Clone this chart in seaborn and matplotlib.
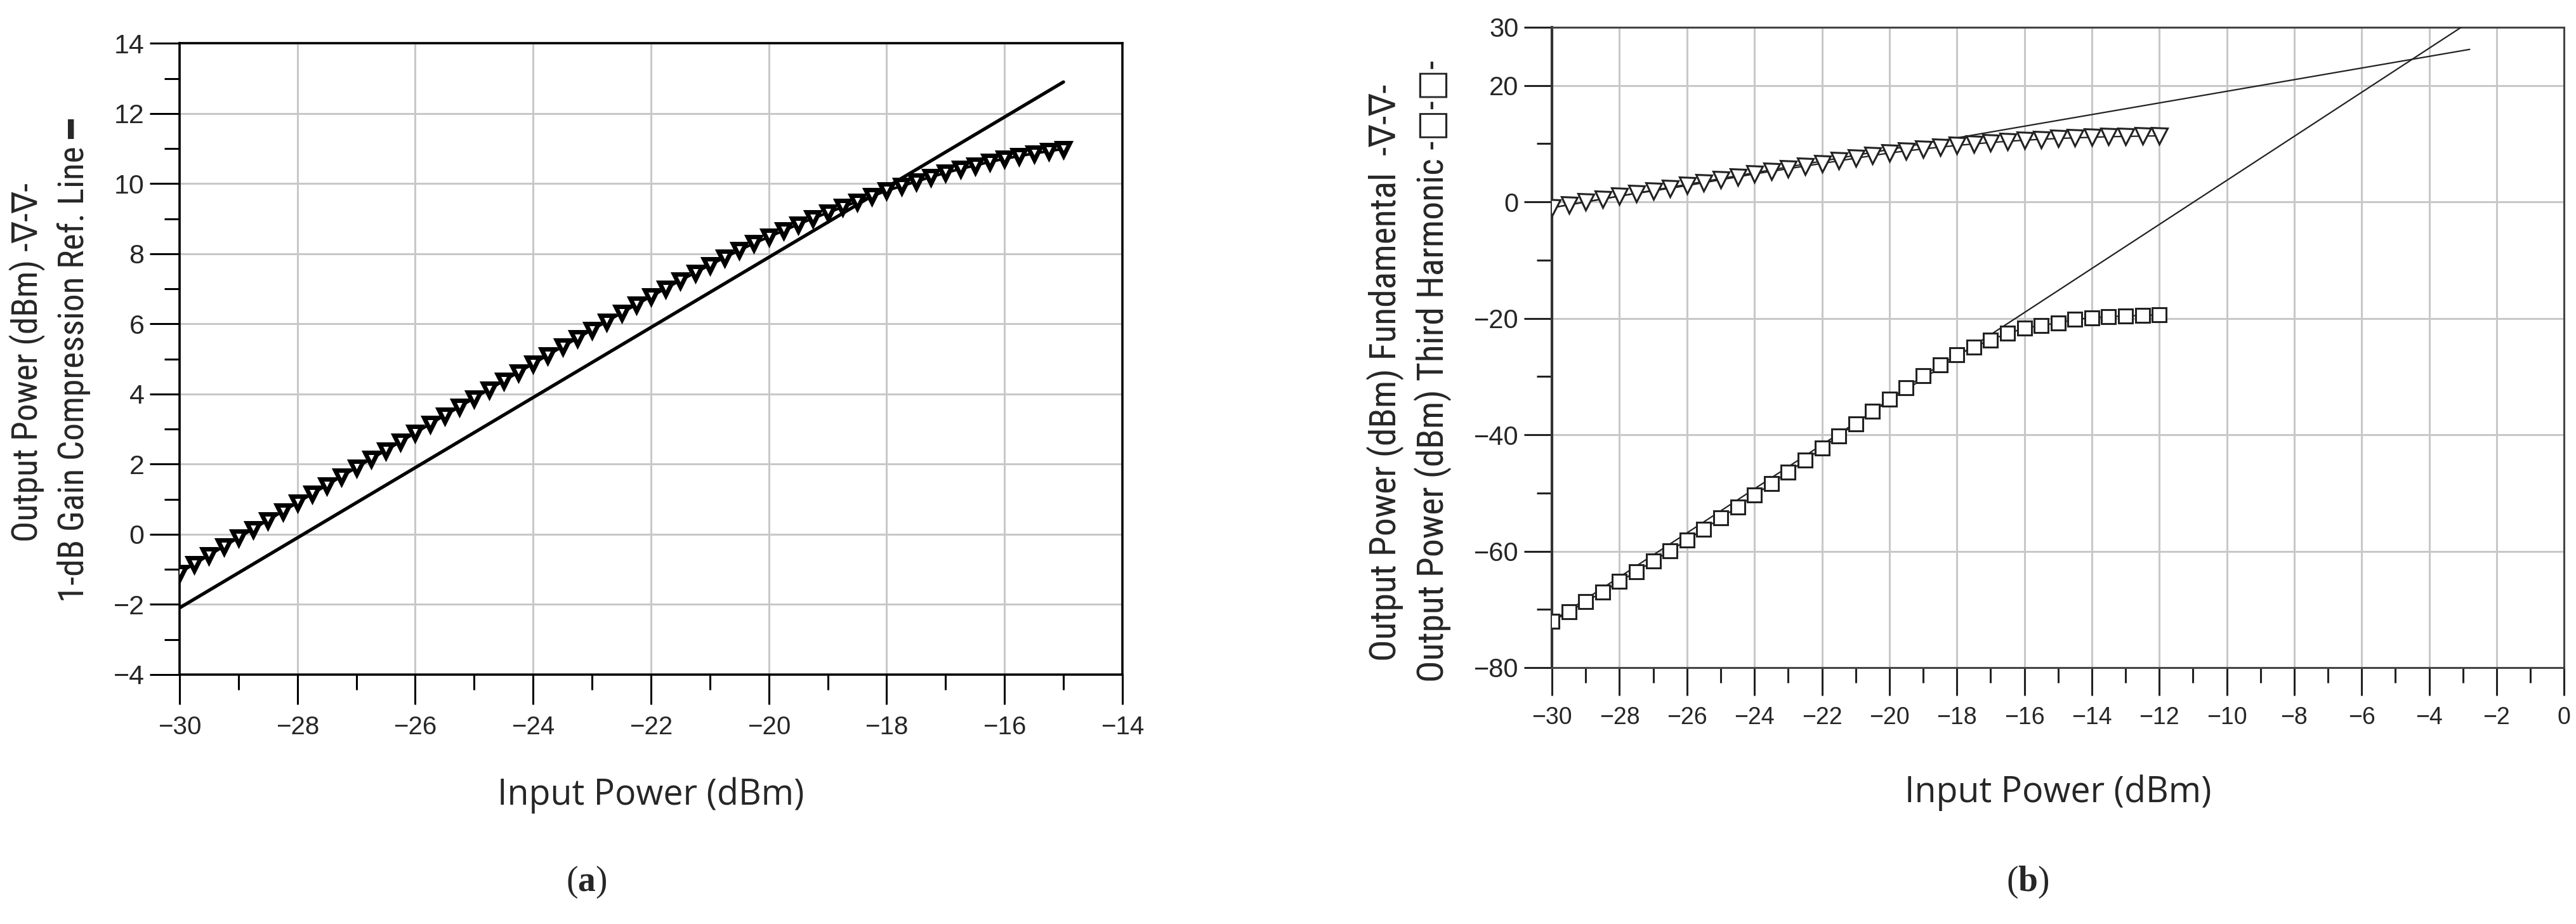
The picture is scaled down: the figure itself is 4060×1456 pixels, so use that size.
import matplotlib
matplotlib.use("Agg")
import matplotlib.pyplot as plt
import numpy as np
import seaborn as sns
import pandas as pd
from matplotlib.ticker import MultipleLocator, FixedLocator
from matplotlib import font_manager

sns.set_theme(style="whitegrid")
plt.rcParams['font.family'] = ['Liberation Sans', 'DejaVu Sans']
plt.rcParams['mathtext.fontset'] = 'custom'
plt.rcParams['mathtext.rm'] = 'Liberation Serif'
plt.rcParams['mathtext.bf'] = 'Liberation Serif:bold'

# (a) 1-dB compression, input power -30..-15 dBm in 0.25 dB steps
pin_a = [-30.00, -29.75, -29.50, -29.25, -29.00, -28.75, -28.50, -28.25,
         -28.00, -27.75, -27.50, -27.25, -27.00, -26.75, -26.50, -26.25,
         -26.00, -25.75, -25.50, -25.25, -25.00, -24.75, -24.50, -24.25,
         -24.00, -23.75, -23.50, -23.25, -23.00, -22.75, -22.50, -22.25,
         -22.00, -21.75, -21.50, -21.25, -21.00, -20.75, -20.50, -20.25,
         -20.00, -19.75, -19.50, -19.25, -19.00, -18.75, -18.50, -18.25,
         -18.00, -17.75, -17.50, -17.25, -17.00, -16.75, -16.50, -16.25,
         -16.00, -15.75, -15.50, -15.25, -15.00]
pout_a = [-1.10, -0.85, -0.60, -0.35, -0.10, 0.15, 0.40, 0.65,
          0.90, 1.15, 1.40, 1.65, 1.90, 2.15, 2.39, 2.64,
          2.89, 3.14, 3.39, 3.63, 3.88, 4.13, 4.37, 4.62,
          4.86, 5.11, 5.35, 5.59, 5.83, 6.07, 6.31, 6.55,
          6.78, 7.01, 7.24, 7.46, 7.68, 7.89, 8.10, 8.30,
          8.48, 8.66, 8.84, 9.01, 9.17, 9.33, 9.49, 9.64,
          9.80, 9.93, 10.06, 10.19, 10.31, 10.42, 10.52, 10.62,
          10.71, 10.79, 10.86, 10.93, 10.99]
ref_a_x = [-30.0, -15.0]
ref_a_y = [-2.1, 12.9]

# (b) fundamental and third harmonic, input power -30..-12 dBm in 0.5 dB steps
pin_b = [-30.0, -29.5, -29.0, -28.5, -28.0, -27.5, -27.0, -26.5, -26.0,
         -25.5, -25.0, -24.5, -24.0, -23.5, -23.0, -22.5, -22.0, -21.5,
         -21.0, -20.5, -20.0, -19.5, -19.0, -18.5, -18.0, -17.5, -17.0,
         -16.5, -16.0, -15.5, -15.0, -14.5, -14.0, -13.5, -13.0, -12.5, -12.0]
fund_b = [-1.0, -0.5, 0.0, 0.5, 1.0, 1.45, 1.9, 2.35, 2.8,
          3.3, 3.8, 4.3, 4.8, 5.25, 5.7, 6.15, 6.6, 7.05,
          7.5, 7.95, 8.4, 8.75, 9.1, 9.4, 9.7, 9.95, 10.2,
          10.4, 10.6, 10.75, 10.9, 11.0, 11.1, 11.2, 11.25, 11.3, 11.35]
harm_b = [-72.1, -70.4, -68.7, -67.0, -65.2, -63.5, -61.7, -59.9, -58.1,
          -56.2, -54.3, -52.4, -50.4, -48.4, -46.4, -44.4, -42.3, -40.2,
          -38.1, -36.0, -33.9, -31.9, -29.9, -28.0, -26.3, -24.9, -23.7,
          -22.6, -21.7, -21.2, -20.8, -20.2, -19.9, -19.7, -19.6, -19.5, -19.4]
fund_ref_x = [-30.0, -2.8]
fund_ref_y = [-1.0, 26.2]
harm_ref_x = [-30.0, -3.05]
harm_ref_y = [-72.0, 30.0]

# condensed face for the y labels, if one is installed
names = {f.name for f in font_manager.fontManager.ttflist}
narrow = [n for n in ['Liberation Sans Narrow', 'Roboto Condensed', 'Open Sans Condensed',
                      'Noto Sans Condensed'] if n in names] + ['DejaVu Sans']

fig = plt.figure(figsize=(40.6, 14.56), dpi=100)
ax1 = fig.add_axes([0.0697, 0.270, 0.366, 0.683])
ax2 = fig.add_axes([0.6025, 0.2775, 0.3929, 0.693])

# ---- panel (a)
sns.lineplot(x=ref_a_x, y=ref_a_y, color='black', lw=3.8, ax=ax1, zorder=3)
sns.lineplot(x=pin_a, y=pout_a, color='black', lw=3, marker='v', markersize=14,
             markerfacecolor='white', markeredgecolor='black', markeredgewidth=5,
             ax=ax1, zorder=4)
ax1.set_xlim(-30, -14)
ax1.set_ylim(-4, 14)
ax1.xaxis.set_major_locator(MultipleLocator(2))
ax1.xaxis.set_minor_locator(MultipleLocator(1))
ax1.yaxis.set_major_locator(MultipleLocator(2))
ax1.yaxis.set_minor_locator(MultipleLocator(1))
for s in ax1.spines.values():
    s.set_color('black')
    s.set_linewidth(2.6)
ax1.tick_params(which='major', length=34, width=2.2, color='black', direction='out',
                bottom=True, left=True, labelsize=31, pad=6)
ax1.tick_params(which='minor', length=17, width=2.2, color='black', direction='out',
                bottom=True, left=True)
ax1.tick_params(axis='x', labelsize=29, pad=12)

# ---- panel (b)
sns.lineplot(x=fund_ref_x, y=fund_ref_y, color='#222222', lw=1.6, ax=ax2, zorder=3)
sns.lineplot(x=harm_ref_x, y=harm_ref_y, color='#222222', lw=1.6, ax=ax2, zorder=3)
sns.lineplot(x=pin_b, y=fund_b, color='#222222', lw=1.6, marker='v', markersize=18,
             markerfacecolor='white', markeredgecolor='#222222', markeredgewidth=2.2,
             ax=ax2, zorder=4)
sns.lineplot(x=pin_b, y=harm_b, color='#222222', lw=1.6, marker='s', markersize=16,
             markerfacecolor='white', markeredgecolor='#222222', markeredgewidth=2.2,
             ax=ax2, zorder=4)
ax2.set_xlim(-30, 0)
ax2.set_ylim(-80, 30)
ax2.xaxis.set_major_locator(MultipleLocator(2))
ax2.xaxis.set_minor_locator(MultipleLocator(1))
ax2.yaxis.set_major_locator(FixedLocator([-80, -60, -40, -20, 0, 20, 30]))
ax2.yaxis.set_minor_locator(FixedLocator([-70, -50, -30, -10, 10]))
for s in ax2.spines.values():
    s.set_color('#444444')
    s.set_linewidth(2.2)
ax2.spines['left'].set_color('#333333')
ax2.spines['left'].set_linewidth(3)
ax2.tick_params(which='major', length=32, width=2.2, color='#222222', direction='out',
                bottom=True, left=True, labelsize=30, pad=6)
ax2.tick_params(which='minor', length=17, width=2.2, color='#222222', direction='out',
                bottom=True, left=True)
ax2.tick_params(axis='x', labelsize=27, pad=12)

for ax in (ax1, ax2):
    ax.set_axisbelow(True)
    ax.grid(True, which='major', color='#c8c8c8', lw=2.2)
    ax.grid(False, which='minor')
    ax.set_facecolor('white')
    ax.set_xlabel('Input Power (dBm)', fontsize=40, family=['Open Sans', 'DejaVu Sans'])
    ax.xaxis.label.set_va('center')
ax1.xaxis.set_label_coords(0.5, -0.191)
ax2.xaxis.set_label_coords(0.5, -0.196)

lab = dict(rotation=90, ha='center', va='center', family=narrow, stretch='condensed')
fig.text(0.0106, 0.608, 'Output Power (dBm) -∇-∇-', fontsize=40, **lab)
fig.text(0.0288, 0.610, '1-dB Gain Compression Ref. Line ━', fontsize=40, **lab)
fig.text(0.5377, 0.597, 'Output Power (dBm) Fundamental  -∇-∇-', fontsize=41.5, **lab)
fig.text(0.5562, 0.598, 'Output Power (dBm) Third Harmonic -□-□-', fontsize=41.5, **lab)

fig.text(0.2276, 0.045, r'$\mathrm{(}\mathbf{a}\mathrm{)}$', ha='center', va='center', fontsize=40)
fig.text(0.7870, 0.045, r'$\mathrm{(}\mathbf{b}\mathrm{)}$', ha='center', va='center', fontsize=40)

fig.savefig('out.png', dpi=100, facecolor='white')
